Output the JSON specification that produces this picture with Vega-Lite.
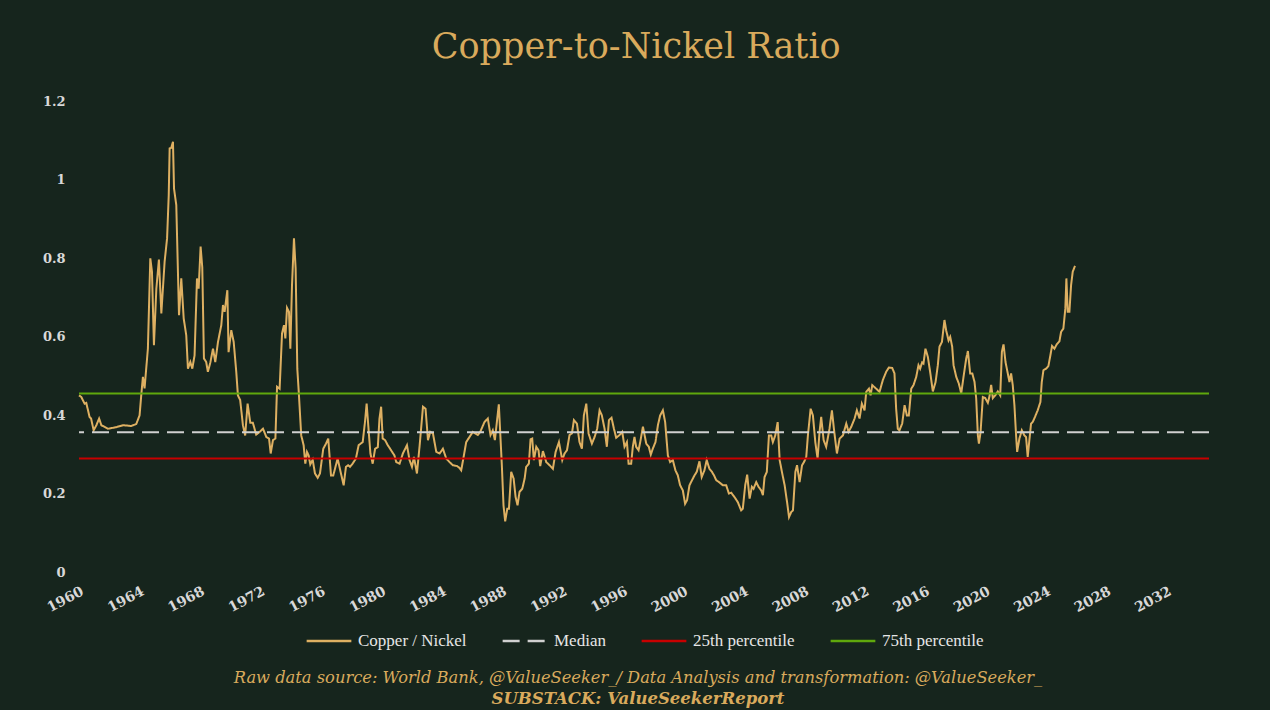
{
  "$schema": "https://vega.github.io/schema/vega-lite/v6.json",
  "background": "#16251d",
  "padding": {"left": 42, "top": 30, "right": 60, "bottom": 2},
  "title": {
    "text": "Copper-to-Nickel Ratio",
    "font": "DejaVu Serif",
    "fontSize": 35,
    "fontWeight": "normal",
    "color": "#d9aa5c",
    "anchor": "middle",
    "dx": 10,
    "offset": 30
  },
  "datasets": {
    "ratio": [
      {"t": 1960.0, "v": 0.450}, {"t": 1960.15, "v": 0.446}, {"t": 1960.37, "v": 0.429}, {"t": 1960.48, "v": 0.431},
      {"t": 1960.7, "v": 0.395}, {"t": 1960.8, "v": 0.391}, {"t": 1960.97, "v": 0.361}, {"t": 1961.15, "v": 0.374},
      {"t": 1961.33, "v": 0.391}, {"t": 1961.48, "v": 0.374}, {"t": 1961.92, "v": 0.365}, {"t": 1962.47, "v": 0.369},
      {"t": 1962.91, "v": 0.374}, {"t": 1963.46, "v": 0.372}, {"t": 1963.79, "v": 0.377}, {"t": 1964.01, "v": 0.399},
      {"t": 1964.12, "v": 0.450}, {"t": 1964.23, "v": 0.497}, {"t": 1964.34, "v": 0.468}, {"t": 1964.56, "v": 0.569},
      {"t": 1964.72, "v": 0.799}, {"t": 1964.83, "v": 0.765}, {"t": 1964.96, "v": 0.578}, {"t": 1965.12, "v": 0.722},
      {"t": 1965.29, "v": 0.796}, {"t": 1965.45, "v": 0.659}, {"t": 1965.67, "v": 0.792}, {"t": 1965.83, "v": 0.850},
      {"t": 1965.94, "v": 0.960}, {"t": 1966.0, "v": 1.079}, {"t": 1966.11, "v": 1.081}, {"t": 1966.22, "v": 1.096},
      {"t": 1966.29, "v": 0.977}, {"t": 1966.44, "v": 0.935}, {"t": 1966.62, "v": 0.654}, {"t": 1966.77, "v": 0.748},
      {"t": 1966.93, "v": 0.646}, {"t": 1967.1, "v": 0.603}, {"t": 1967.21, "v": 0.518}, {"t": 1967.37, "v": 0.535},
      {"t": 1967.5, "v": 0.518}, {"t": 1967.65, "v": 0.552}, {"t": 1967.81, "v": 0.748}, {"t": 1967.92, "v": 0.722},
      {"t": 1968.05, "v": 0.829}, {"t": 1968.16, "v": 0.776}, {"t": 1968.27, "v": 0.544}, {"t": 1968.42, "v": 0.535},
      {"t": 1968.53, "v": 0.510}, {"t": 1968.69, "v": 0.533}, {"t": 1968.87, "v": 0.569}, {"t": 1969.02, "v": 0.535},
      {"t": 1969.2, "v": 0.586}, {"t": 1969.42, "v": 0.629}, {"t": 1969.53, "v": 0.680}, {"t": 1969.64, "v": 0.663},
      {"t": 1969.82, "v": 0.718}, {"t": 1969.9, "v": 0.560}, {"t": 1970.08, "v": 0.616}, {"t": 1970.24, "v": 0.586},
      {"t": 1970.41, "v": 0.510}, {"t": 1970.52, "v": 0.450}, {"t": 1970.67, "v": 0.438}, {"t": 1970.85, "v": 0.374},
      {"t": 1971.0, "v": 0.348}, {"t": 1971.16, "v": 0.429}, {"t": 1971.34, "v": 0.380}, {"t": 1971.51, "v": 0.380},
      {"t": 1971.73, "v": 0.350}, {"t": 1971.96, "v": 0.357}, {"t": 1972.18, "v": 0.365}, {"t": 1972.4, "v": 0.344},
      {"t": 1972.58, "v": 0.340}, {"t": 1972.69, "v": 0.302}, {"t": 1972.84, "v": 0.336}, {"t": 1973.0, "v": 0.340},
      {"t": 1973.11, "v": 0.472}, {"t": 1973.28, "v": 0.467}, {"t": 1973.44, "v": 0.608}, {"t": 1973.57, "v": 0.629},
      {"t": 1973.66, "v": 0.595}, {"t": 1973.77, "v": 0.673}, {"t": 1973.9, "v": 0.663}, {"t": 1973.99, "v": 0.569},
      {"t": 1974.1, "v": 0.731}, {"t": 1974.23, "v": 0.850}, {"t": 1974.34, "v": 0.773}, {"t": 1974.45, "v": 0.518},
      {"t": 1974.56, "v": 0.450}, {"t": 1974.71, "v": 0.348}, {"t": 1974.87, "v": 0.323}, {"t": 1974.98, "v": 0.276},
      {"t": 1975.09, "v": 0.306}, {"t": 1975.2, "v": 0.297}, {"t": 1975.31, "v": 0.274}, {"t": 1975.47, "v": 0.286},
      {"t": 1975.62, "v": 0.251}, {"t": 1975.8, "v": 0.240}, {"t": 1975.95, "v": 0.251}, {"t": 1976.17, "v": 0.314},
      {"t": 1976.35, "v": 0.327}, {"t": 1976.5, "v": 0.340}, {"t": 1976.68, "v": 0.246}, {"t": 1976.83, "v": 0.246},
      {"t": 1977.12, "v": 0.289}, {"t": 1977.34, "v": 0.251}, {"t": 1977.52, "v": 0.221}, {"t": 1977.67, "v": 0.268},
      {"t": 1977.82, "v": 0.272}, {"t": 1977.94, "v": 0.268}, {"t": 1978.11, "v": 0.276}, {"t": 1978.33, "v": 0.289},
      {"t": 1978.51, "v": 0.323}, {"t": 1978.78, "v": 0.331}, {"t": 1978.93, "v": 0.382}, {"t": 1979.04, "v": 0.429},
      {"t": 1979.18, "v": 0.357}, {"t": 1979.29, "v": 0.302}, {"t": 1979.44, "v": 0.276}, {"t": 1979.6, "v": 0.314},
      {"t": 1979.78, "v": 0.318}, {"t": 1979.89, "v": 0.391}, {"t": 1980.0, "v": 0.421}, {"t": 1980.1, "v": 0.340},
      {"t": 1980.26, "v": 0.336}, {"t": 1980.44, "v": 0.323}, {"t": 1980.66, "v": 0.310}, {"t": 1980.88, "v": 0.297},
      {"t": 1981.0, "v": 0.280}, {"t": 1981.22, "v": 0.276}, {"t": 1981.44, "v": 0.302}, {"t": 1981.71, "v": 0.323},
      {"t": 1981.88, "v": 0.285}, {"t": 1982.04, "v": 0.268}, {"t": 1982.17, "v": 0.293}, {"t": 1982.37, "v": 0.251},
      {"t": 1982.55, "v": 0.323}, {"t": 1982.77, "v": 0.421}, {"t": 1982.94, "v": 0.416}, {"t": 1983.1, "v": 0.336},
      {"t": 1983.25, "v": 0.357}, {"t": 1983.43, "v": 0.353}, {"t": 1983.65, "v": 0.306}, {"t": 1983.87, "v": 0.302},
      {"t": 1984.09, "v": 0.314}, {"t": 1984.31, "v": 0.289}, {"t": 1984.53, "v": 0.280}, {"t": 1984.75, "v": 0.272},
      {"t": 1985.02, "v": 0.270}, {"t": 1985.19, "v": 0.265}, {"t": 1985.3, "v": 0.259}, {"t": 1985.46, "v": 0.293},
      {"t": 1985.63, "v": 0.331}, {"t": 1985.85, "v": 0.344}, {"t": 1986.07, "v": 0.357}, {"t": 1986.4, "v": 0.349},
      {"t": 1986.56, "v": 0.357}, {"t": 1986.84, "v": 0.382}, {"t": 1987.06, "v": 0.391}, {"t": 1987.24, "v": 0.349},
      {"t": 1987.39, "v": 0.361}, {"t": 1987.53, "v": 0.336}, {"t": 1987.66, "v": 0.382}, {"t": 1987.79, "v": 0.427},
      {"t": 1987.88, "v": 0.357}, {"t": 1987.99, "v": 0.272}, {"t": 1988.1, "v": 0.170}, {"t": 1988.21, "v": 0.129},
      {"t": 1988.35, "v": 0.161}, {"t": 1988.46, "v": 0.161}, {"t": 1988.61, "v": 0.255}, {"t": 1988.77, "v": 0.238},
      {"t": 1988.9, "v": 0.191}, {"t": 1989.03, "v": 0.170}, {"t": 1989.16, "v": 0.204}, {"t": 1989.34, "v": 0.212},
      {"t": 1989.5, "v": 0.238}, {"t": 1989.6, "v": 0.268}, {"t": 1989.78, "v": 0.276}, {"t": 1989.89, "v": 0.338},
      {"t": 1990.0, "v": 0.340}, {"t": 1990.11, "v": 0.285}, {"t": 1990.27, "v": 0.319}, {"t": 1990.42, "v": 0.310},
      {"t": 1990.53, "v": 0.270}, {"t": 1990.71, "v": 0.308}, {"t": 1990.93, "v": 0.280}, {"t": 1991.15, "v": 0.272},
      {"t": 1991.37, "v": 0.263}, {"t": 1991.55, "v": 0.306}, {"t": 1991.77, "v": 0.331}, {"t": 1991.99, "v": 0.285},
      {"t": 1992.14, "v": 0.302}, {"t": 1992.3, "v": 0.310}, {"t": 1992.47, "v": 0.349}, {"t": 1992.63, "v": 0.353},
      {"t": 1992.76, "v": 0.387}, {"t": 1992.96, "v": 0.378}, {"t": 1993.13, "v": 0.331}, {"t": 1993.29, "v": 0.314},
      {"t": 1993.42, "v": 0.399}, {"t": 1993.58, "v": 0.429}, {"t": 1993.73, "v": 0.353}, {"t": 1993.95, "v": 0.327},
      {"t": 1994.13, "v": 0.344}, {"t": 1994.3, "v": 0.365}, {"t": 1994.46, "v": 0.412}, {"t": 1994.61, "v": 0.399},
      {"t": 1994.79, "v": 0.365}, {"t": 1994.94, "v": 0.319}, {"t": 1995.08, "v": 0.387}, {"t": 1995.25, "v": 0.393},
      {"t": 1995.41, "v": 0.365}, {"t": 1995.56, "v": 0.342}, {"t": 1995.78, "v": 0.349}, {"t": 1995.96, "v": 0.357},
      {"t": 1996.11, "v": 0.319}, {"t": 1996.27, "v": 0.331}, {"t": 1996.38, "v": 0.276}, {"t": 1996.55, "v": 0.276},
      {"t": 1996.66, "v": 0.319}, {"t": 1996.77, "v": 0.344}, {"t": 1996.88, "v": 0.319}, {"t": 1997.04, "v": 0.310},
      {"t": 1997.15, "v": 0.331}, {"t": 1997.33, "v": 0.370}, {"t": 1997.55, "v": 0.327}, {"t": 1997.72, "v": 0.319},
      {"t": 1997.85, "v": 0.299}, {"t": 1997.98, "v": 0.314}, {"t": 1998.16, "v": 0.331}, {"t": 1998.32, "v": 0.374},
      {"t": 1998.47, "v": 0.399}, {"t": 1998.65, "v": 0.412}, {"t": 1998.8, "v": 0.382}, {"t": 1998.98, "v": 0.297},
      {"t": 1999.13, "v": 0.280}, {"t": 1999.31, "v": 0.285}, {"t": 1999.48, "v": 0.259}, {"t": 1999.64, "v": 0.246},
      {"t": 1999.79, "v": 0.221}, {"t": 1999.97, "v": 0.208}, {"t": 2000.12, "v": 0.174}, {"t": 2000.25, "v": 0.183},
      {"t": 2000.41, "v": 0.221}, {"t": 2000.58, "v": 0.234}, {"t": 2000.74, "v": 0.246}, {"t": 2000.89, "v": 0.255},
      {"t": 2001.07, "v": 0.282}, {"t": 2001.22, "v": 0.242}, {"t": 2001.4, "v": 0.259}, {"t": 2001.55, "v": 0.285},
      {"t": 2001.73, "v": 0.263}, {"t": 2001.9, "v": 0.255}, {"t": 2002.05, "v": 0.245}, {"t": 2002.18, "v": 0.234},
      {"t": 2002.4, "v": 0.228}, {"t": 2002.62, "v": 0.221}, {"t": 2002.84, "v": 0.221}, {"t": 2003.02, "v": 0.200},
      {"t": 2003.17, "v": 0.202}, {"t": 2003.39, "v": 0.191}, {"t": 2003.61, "v": 0.178}, {"t": 2003.83, "v": 0.157},
      {"t": 2003.94, "v": 0.161}, {"t": 2004.1, "v": 0.221}, {"t": 2004.23, "v": 0.248}, {"t": 2004.39, "v": 0.187},
      {"t": 2004.54, "v": 0.217}, {"t": 2004.65, "v": 0.212}, {"t": 2004.83, "v": 0.229}, {"t": 2004.98, "v": 0.217},
      {"t": 2005.16, "v": 0.208}, {"t": 2005.27, "v": 0.196}, {"t": 2005.38, "v": 0.242}, {"t": 2005.53, "v": 0.255},
      {"t": 2005.67, "v": 0.348}, {"t": 2005.82, "v": 0.348}, {"t": 2005.93, "v": 0.331}, {"t": 2006.09, "v": 0.348},
      {"t": 2006.25, "v": 0.382}, {"t": 2006.38, "v": 0.285}, {"t": 2006.53, "v": 0.255}, {"t": 2006.71, "v": 0.221},
      {"t": 2006.87, "v": 0.178}, {"t": 2007.0, "v": 0.140}, {"t": 2007.15, "v": 0.153}, {"t": 2007.26, "v": 0.157},
      {"t": 2007.42, "v": 0.255}, {"t": 2007.53, "v": 0.272}, {"t": 2007.7, "v": 0.229}, {"t": 2007.86, "v": 0.272},
      {"t": 2007.99, "v": 0.280}, {"t": 2008.14, "v": 0.293}, {"t": 2008.25, "v": 0.348}, {"t": 2008.43, "v": 0.416},
      {"t": 2008.58, "v": 0.399}, {"t": 2008.74, "v": 0.331}, {"t": 2008.89, "v": 0.289}, {"t": 2009.02, "v": 0.357},
      {"t": 2009.13, "v": 0.395}, {"t": 2009.29, "v": 0.336}, {"t": 2009.46, "v": 0.319}, {"t": 2009.68, "v": 0.365},
      {"t": 2009.84, "v": 0.412}, {"t": 2009.97, "v": 0.365}, {"t": 2010.17, "v": 0.302}, {"t": 2010.35, "v": 0.340},
      {"t": 2010.57, "v": 0.348}, {"t": 2010.79, "v": 0.378}, {"t": 2010.94, "v": 0.357}, {"t": 2011.12, "v": 0.370},
      {"t": 2011.34, "v": 0.391}, {"t": 2011.49, "v": 0.412}, {"t": 2011.67, "v": 0.391}, {"t": 2011.82, "v": 0.429},
      {"t": 2012.0, "v": 0.412}, {"t": 2012.11, "v": 0.459}, {"t": 2012.29, "v": 0.467}, {"t": 2012.4, "v": 0.450},
      {"t": 2012.51, "v": 0.476}, {"t": 2012.77, "v": 0.467}, {"t": 2012.99, "v": 0.459}, {"t": 2013.21, "v": 0.489},
      {"t": 2013.43, "v": 0.510}, {"t": 2013.61, "v": 0.521}, {"t": 2013.83, "v": 0.520}, {"t": 2013.98, "v": 0.506},
      {"t": 2014.09, "v": 0.416}, {"t": 2014.2, "v": 0.365}, {"t": 2014.31, "v": 0.361}, {"t": 2014.49, "v": 0.378},
      {"t": 2014.65, "v": 0.425}, {"t": 2014.8, "v": 0.399}, {"t": 2014.93, "v": 0.399}, {"t": 2015.09, "v": 0.467},
      {"t": 2015.24, "v": 0.476}, {"t": 2015.42, "v": 0.497}, {"t": 2015.57, "v": 0.527}, {"t": 2015.68, "v": 0.518},
      {"t": 2015.81, "v": 0.534}, {"t": 2015.9, "v": 0.531}, {"t": 2016.03, "v": 0.569}, {"t": 2016.19, "v": 0.548},
      {"t": 2016.34, "v": 0.510}, {"t": 2016.52, "v": 0.460}, {"t": 2016.7, "v": 0.484}, {"t": 2016.85, "v": 0.527},
      {"t": 2016.96, "v": 0.574}, {"t": 2017.12, "v": 0.586}, {"t": 2017.29, "v": 0.642}, {"t": 2017.4, "v": 0.616},
      {"t": 2017.56, "v": 0.590}, {"t": 2017.67, "v": 0.599}, {"t": 2017.8, "v": 0.574}, {"t": 2017.89, "v": 0.527},
      {"t": 2018.07, "v": 0.497}, {"t": 2018.24, "v": 0.480}, {"t": 2018.4, "v": 0.455}, {"t": 2018.55, "v": 0.497},
      {"t": 2018.73, "v": 0.544}, {"t": 2018.84, "v": 0.563}, {"t": 2018.99, "v": 0.506}, {"t": 2019.13, "v": 0.506},
      {"t": 2019.28, "v": 0.484}, {"t": 2019.39, "v": 0.442}, {"t": 2019.5, "v": 0.348}, {"t": 2019.57, "v": 0.327},
      {"t": 2019.68, "v": 0.357}, {"t": 2019.83, "v": 0.446}, {"t": 2019.99, "v": 0.443}, {"t": 2020.16, "v": 0.431},
      {"t": 2020.27, "v": 0.448}, {"t": 2020.38, "v": 0.477}, {"t": 2020.49, "v": 0.443}, {"t": 2020.65, "v": 0.450},
      {"t": 2020.82, "v": 0.460}, {"t": 2020.98, "v": 0.450}, {"t": 2021.09, "v": 0.561}, {"t": 2021.2, "v": 0.580},
      {"t": 2021.33, "v": 0.535}, {"t": 2021.48, "v": 0.506}, {"t": 2021.59, "v": 0.484}, {"t": 2021.7, "v": 0.506},
      {"t": 2021.81, "v": 0.476}, {"t": 2021.92, "v": 0.425}, {"t": 2022.03, "v": 0.348}, {"t": 2022.1, "v": 0.306},
      {"t": 2022.25, "v": 0.340}, {"t": 2022.41, "v": 0.361}, {"t": 2022.58, "v": 0.348}, {"t": 2022.69, "v": 0.344},
      {"t": 2022.8, "v": 0.293}, {"t": 2022.91, "v": 0.336}, {"t": 2023.02, "v": 0.378}, {"t": 2023.13, "v": 0.382},
      {"t": 2023.28, "v": 0.395}, {"t": 2023.46, "v": 0.412}, {"t": 2023.64, "v": 0.433}, {"t": 2023.73, "v": 0.484},
      {"t": 2023.84, "v": 0.514}, {"t": 2024.02, "v": 0.518}, {"t": 2024.17, "v": 0.525}, {"t": 2024.3, "v": 0.552},
      {"t": 2024.41, "v": 0.576}, {"t": 2024.57, "v": 0.569}, {"t": 2024.72, "v": 0.580}, {"t": 2024.9, "v": 0.588},
      {"t": 2025.01, "v": 0.612}, {"t": 2025.16, "v": 0.620}, {"t": 2025.29, "v": 0.671}, {"t": 2025.36, "v": 0.748},
      {"t": 2025.45, "v": 0.663}, {"t": 2025.56, "v": 0.663}, {"t": 2025.67, "v": 0.731}, {"t": 2025.78, "v": 0.765},
      {"t": 2025.93, "v": 0.780}
    ],
    "refs": [
      {"s": "Median", "v": 0.356},
      {"s": "25th percentile", "v": 0.289},
      {"s": "75th percentile", "v": 0.455}
    ]
  },
  "resolve": {
    "scale": {"color": "independent", "strokeDash": "independent"},
    "legend": {"color": "independent", "strokeDash": "independent"}
  },
  "vconcat": [
    {
      "width": 1130,
      "height": 471,
      "title": {
        "text": "Raw data source: World Bank, @ValueSeeker_/ Data Analysis and transformation: @ValueSeeker_",
        "subtitle": "SUBSTACK: ValueSeekerReport",
        "orient": "bottom",
        "anchor": "middle",
        "font": "DejaVu Serif",
        "fontStyle": "italic",
        "fontWeight": "normal",
        "fontSize": 16.3,
        "color": "#d9aa5c",
        "subtitleFont": "DejaVu Serif",
        "subtitleFontStyle": "italic",
        "subtitleFontWeight": "bold",
        "subtitleFontSize": 16.5,
        "subtitleColor": "#d9aa5c",
        "subtitlePadding": 5,
        "dx": -6,
        "offset": 21
      },
      "layer": [
        {
          "data": {"name": "ratio"},
          "mark": {"type": "line", "strokeWidth": 2},
          "encoding": {
            "x": {
              "field": "t",
              "type": "quantitative",
              "scale": {"domain": [1960, 2034.8], "nice": false, "zero": false},
              "axis": {
                "values": [1960, 1964, 1968, 1972, 1976, 1980, 1984, 1988, 1992, 1996, 2000, 2004, 2008, 2012, 2016, 2020, 2024, 2028, 2032],
                "format": "d",
                "labelAngle": -28,
                "labelAlign": "right",
                "labelBaseline": "top",
                "labelFontSize": 14,
                "labelPadding": 12,
                "title": null
              }
            },
            "y": {
              "field": "v",
              "type": "quantitative",
              "scale": {"domain": [0, 1.2], "nice": false},
              "axis": {
                "values": [0, 0.2, 0.4, 0.6, 0.8, 1, 1.2],
                "format": "~g",
                "labelPadding": 14,
                "title": null
              }
            },
            "color": {
              "datum": "Copper / Nickel",
              "type": "nominal",
              "scale": {
                "domain": ["Copper / Nickel", "Median", "25th percentile", "75th percentile"],
                "range": ["#deb062", "#d0d0d0", "#c80000", "#5fa80c"]
              },
              "legend": {"title": null}
            },
            "strokeDash": {
              "datum": "Copper / Nickel",
              "type": "nominal",
              "scale": {
                "domain": ["Copper / Nickel", "Median", "25th percentile", "75th percentile"],
                "range": [[1, 0], [17, 8], [1, 0], [1, 0]]
              },
              "legend": {"title": null}
            }
          }
        },
        {
          "data": {"name": "refs"},
          "mark": {"type": "rule", "strokeWidth": 2},
          "encoding": {
            "y": {"field": "v", "type": "quantitative"},
            "color": {"field": "s", "type": "nominal", "legend": {"title": null}},
            "strokeDash": {"field": "s", "type": "nominal", "legend": {"title": null}}
          }
        }
      ]
    }
  ],
  "config": {
    "view": {"stroke": null},
    "axis": {
      "domain": false,
      "ticks": false,
      "grid": false,
      "labelColor": "#d8d8d8",
      "labelFont": "DejaVu Serif",
      "labelFontSize": 13,
      "labelFontWeight": "bold"
    },
    "legend": {
      "orient": "bottom",
      "direction": "horizontal",
      "layout": {"bottom": {"anchor": "middle"}},
      "symbolType": "stroke",
      "symbolSize": 2000,
      "symbolStrokeWidth": 2.5,
      "labelFont": "Liberation Serif",
      "labelFontSize": 17,
      "labelColor": "#e6e6e6",
      "labelOffset": 5,
      "columnPadding": 30,
      "offset": 2
    }
  }
}
